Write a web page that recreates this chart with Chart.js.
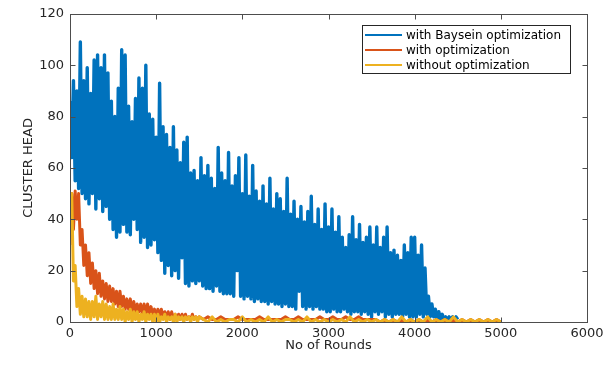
<!DOCTYPE html>
<html>
<head>
<meta charset="utf-8">
<script src="https://cdn.jsdelivr.net/npm/chart.js@4/dist/chart.umd.min.js"></script>
<style>
  body { margin: 0; background: #fff; }
  #wrap { width: 616px; height: 365px; }
</style>
</head>
<body>
<div id="wrap"><canvas id="chCluster"></canvas></div>
<script>
// series names, as in the legend
const seriesLabels = ["with Baysein optimization", "with optimization", "without optimization"];

// axis ranges and tick spacing
const xMax = 6000, xStep = 1000;
const yMax = 120, yStep = 20;

// blue: one value every 20 rounds, from round 0 to 4500
const blueStep = 20;
const blueValues = [
  86, 64, 94, 55, 90, 52, 109, 50, 94, 48,
  99, 46, 89, 50, 102, 44, 104, 48, 99, 43,
  104, 45, 97, 40, 86, 36, 80, 33, 91, 35,
  106, 38, 104, 35, 84, 34, 78, 40, 87, 36,
  95, 31, 91, 33, 100, 29, 81, 30, 79, 32,
  72, 27, 93, 24, 76, 19, 73, 22, 68, 18,
  76, 20, 67, 17, 62, 25, 70, 15, 72, 14,
  58, 16, 59, 15, 55, 16, 64, 14, 57, 13,
  61, 13, 56, 12, 52, 14, 68, 12, 58, 11,
  55, 11, 66, 11, 53, 10, 57, 20, 64, 10,
  50, 9, 65, 10, 49, 9, 61, 8, 51, 9,
  47, 8, 53, 8, 46, 7, 56, 8, 44, 7,
  50, 7, 48, 6, 43, 7, 56, 6, 42, 6,
  47, 5, 40, 12, 45, 6, 39, 5, 43, 6,
  49, 5, 38, 6, 44, 5, 36, 5, 46, 4,
  37, 4, 44, 5, 35, 4, 41, 4, 33, 5,
  29, 4, 34, 3, 41, 4, 32, 4, 38, 3,
  31, 4, 33, 3, 37, 2, 30, 4, 37, 3,
  29, 4, 33, 2, 37, 3, 27, 2, 28, 3,
  26, 3, 24, 2, 30, 3, 27, 2, 33, 2,
  33, 2, 26, 3, 30, 2, 21, 3, 10, 2,
  7, 2, 5, 1, 4, 1, 3, 1, 2, 1,
  2, 1, 2, 1, 2, 1
];

// red and yellow: every 20 rounds up to 1500, then every 50 rounds up to 5000
const earlyStep = 20;
const lateStart = 1550, lateStep = 50;

const redEarly = [
  30, 50, 36, 51, 40, 50, 30, 36, 22, 30,
  18, 27, 15, 23, 13, 20, 11, 19, 10, 16,
  9, 15, 8, 14, 8, 13, 7, 12, 6, 12,
  6, 10, 5, 9, 5, 9, 4, 8, 4, 7,
  4, 7, 3, 7, 3, 7, 3, 6, 3, 5,
  2, 5, 2, 5, 2, 4, 2, 4, 1, 4,
  1, 3, 1, 3, 1, 3, 1, 3, 1, 2,
  1, 3, 1, 2, 1, 2
];
const redLate = [
  1, 2, 1, 1, 2, 1, 1, 1, 2, 1,
  1, 1, 1, 2, 1, 1, 1, 1, 1, 2,
  1, 1, 2, 1, 1, 1, 1, 2, 1, 1,
  2, 1, 1, 2, 1, 1, 2, 1, 1, 1,
  1, 0, 1, 0, 1, 0, 1, 0, 1, 0,
  1, 0, 1, 0, 1, 0, 1, 0, 1, 0,
  1, 0, 1, 0, 1, 0, 1, 0, 1, 0
];

const yellowEarly = [
  45, 50, 16, 22, 6, 13, 3, 10, 2, 9,
  2, 8, 1, 8, 2, 10, 1, 7, 2, 8,
  1, 7, 1, 6, 1, 7, 1, 5, 1, 6,
  1, 5, 0, 4, 1, 5, 0, 4, 1, 4,
  0, 3, 1, 4, 0, 3, 1, 3, 0, 3,
  0, 3, 0, 2, 1, 3, 0, 2, 1, 2,
  0, 3, 0, 2, 1, 2, 0, 2, 1, 2,
  0, 2, 1, 2, 0, 2
];
const yellowLate = [
  1, 0, 2, 0, 1, 0, 1, 1, 0, 2,
  0, 1, 0, 1, 0, 2, 0, 1, 0, 1,
  1, 0, 1, 0, 2, 0, 1, 0, 1, 0,
  1, 0, 1, 0, 2, 0, 1, 0, 1, 0,
  1, 0, 1, 0, 1, 0, 2, 0, 1, 0,
  1, 0, 2, 0, 1, 0, 1, 0, 2, 0,
  1, 0, 1, 0, 1, 0, 1, 0, 1, 0
];

const colors = ["#0072BD", "#D95319", "#EDB120"];

function toPoints(early, late) {
  const pts = early.map((v, i) => ({ x: i * earlyStep, y: v }));
  late.forEach((v, i) => pts.push({ x: lateStart + i * lateStep, y: v }));
  return pts;
}

const bluePoints = blueValues.map((v, i) => ({ x: i * blueStep, y: v }));

const axisFont = { family: "DejaVu Sans", size: 13 };
const textColor = "#262626";

// MATLAB style box with inward ticks, plus the boxed legend
const boxPlugin = {
  id: "box",
  afterDraw(chart) {
    const { ctx, chartArea: a, scales: { x, y } } = chart;
    const L = Math.round(a.left) + 0.5, R = Math.round(a.right) + 0.5;
    const T = Math.round(a.top) + 0.5, B = Math.round(a.bottom) + 0.5;
    ctx.save();
    ctx.strokeStyle = "#4d4d4d";
    ctx.lineWidth = 1;
    ctx.strokeRect(L, T, R - L, B - T);
    ctx.beginPath();
    x.ticks.forEach(t => {
      const px = Math.round(x.getPixelForValue(t.value)) + 0.5;
      ctx.moveTo(px, B); ctx.lineTo(px, B - 5);
      ctx.moveTo(px, T); ctx.lineTo(px, T + 5);
    });
    y.ticks.forEach(t => {
      const py = Math.round(y.getPixelForValue(t.value)) + 0.5;
      ctx.moveTo(L, py); ctx.lineTo(L + 5, py);
      ctx.moveTo(R, py); ctx.lineTo(R - 5, py);
    });
    ctx.stroke();

    // legend
    const lx = Math.round(a.right) - 225, ly = Math.round(a.top) + 11;
    const lw = 208, lh = 48;
    ctx.fillStyle = "#fff";
    ctx.fillRect(lx, ly, lw, lh);
    ctx.strokeStyle = "#262626";
    ctx.strokeRect(lx + 0.5, ly + 0.5, lw, lh);
    ctx.font = "12px 'DejaVu Sans'";
    ctx.textBaseline = "middle";
    seriesLabels.forEach((lab, i) => {
      const cy = ly + 10 + i * 15;
      ctx.strokeStyle = colors[i];
      ctx.lineWidth = 2;
      ctx.beginPath();
      ctx.moveTo(lx + 3, cy); ctx.lineTo(lx + 40, cy);
      ctx.stroke();
      ctx.fillStyle = "#000";
      ctx.fillText(lab, lx + 44, cy + 1);
    });
    ctx.restore();
  }
};

new Chart(document.getElementById("chCluster"), {
  type: "line",
  data: {
    datasets: [
      { label: seriesLabels[0], data: bluePoints, borderColor: colors[0], borderWidth: 3.4, order: 3 },
      { label: seriesLabels[1], data: toPoints(redEarly, redLate), borderColor: colors[1], borderWidth: 3, order: 2 },
      { label: seriesLabels[2], data: toPoints(yellowEarly, yellowLate), borderColor: colors[2], borderWidth: 3, order: 1 }
    ]
  },
  options: {
    responsive: true,
    maintainAspectRatio: false,
    animation: false,
    elements: { point: { radius: 0 }, line: { tension: 0, borderJoinStyle: "round" } },
    layout: { padding: { left: 0, right: 29, top: 13, bottom: 0 } },
    plugins: { legend: { display: false }, tooltip: { enabled: false } },
    scales: {
      x: {
        type: "linear",
        min: 0,
        max: xMax,
        grid: { display: false, drawTicks: false },
        border: { display: false },
        ticks: { stepSize: xStep, font: axisFont, color: textColor, padding: 4, maxRotation: 0, callback: v => String(v) },
        title: { display: true, text: "No of Rounds", font: axisFont, color: textColor, padding: { top: 0, bottom: 12 } },
        afterFit: s => { s.height = 43; }
      },
      y: {
        min: 0,
        max: yMax,
        grid: { display: false, drawTicks: false },
        border: { display: false },
        ticks: { stepSize: yStep, font: axisFont, color: textColor, padding: 6, callback: v => String(v) },
        title: { display: true, text: "CLUSTER HEAD", font: axisFont, color: textColor, padding: { top: 21, bottom: 0 } },
        afterFit: s => { s.width = 70; }
      }
    }
  },
  plugins: [boxPlugin]
});
</script>
</body>
</html>
